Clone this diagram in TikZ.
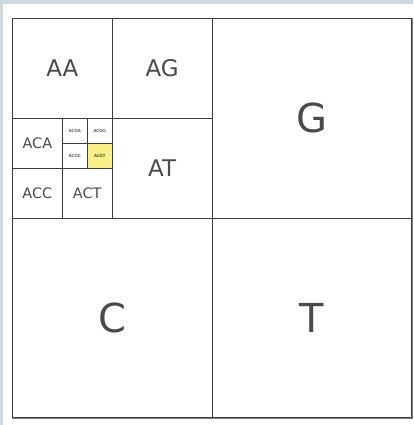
\documentclass[tikz,border=0pt]{standalone}
\usepackage{fontspec}
\setmainfont{DejaVu Sans}
\usepackage{xcolor}
\definecolor{gridink}{HTML}{3C3C3C}
\definecolor{labelink}{HTML}{4A4A4A}
\definecolor{pagebg}{HTML}{CED8DF}
\definecolor{hilite}{HTML}{FAF08A}

\begin{document}
\begin{tikzpicture}[x=1pt,y=1pt,
  cell/.style={draw=gridink, line width=0.8pt, rectangle, inner sep=0pt, text=labelink},
  lvlone/.style={cell, minimum size=200pt, font=\fontsize{40}{48}\selectfont},
  lvltwo/.style={cell, minimum size=100pt, font=\fontsize{23}{28}\selectfont},
  lvlthree/.style={cell, minimum size=50pt, font=\fontsize{14.5}{17}\selectfont},
  lvlfour/.style={cell, minimum size=25pt, text=black, font=\fontsize{4.2}{5}\selectfont},
  every path/.style={draw=gridink, line width=0.8pt}]
\useasboundingbox (0,0) rectangle (413,425);
\fill[pagebg, draw=none] (0,0) rectangle (413,425);
\fill[white, draw=none] (3,0) rectangle (413,421);
% big board
\node[cell, minimum size=400pt, fill=white] (board) at (212,207) {};
\draw[line width=1.2pt, draw=gray] ([xshift=0.8pt]board.north east) -- ([xshift=0.8pt,yshift=-0.8pt]board.south east) -- ([yshift=-0.8pt]board.south west);
% first level
\node[lvlone] (G) at (312,307) {G};
\node[lvlone] (C) at (112,107) {C};
\node[lvlone] (T) at (312,107) {T};
% second level
\node[lvltwo] (AA) at (62,357) {AA};
\node[lvltwo] (AG) at (162,357) {AG};
\node[lvltwo] (AT) at (162,257) {AT};
% third level
\node[lvlthree] (ACA) at (37,282) {ACA};
\node[lvlthree] (ACC) at (37,232) {ACC};
\node[lvlthree] (ACT) at (87,232) {ACT};
% fourth level
\node[lvlfour] (ACGA) at (74.5,294.5) {ACGA};
\node[lvlfour] (ACGG) at (99.5,294.5) {ACGG};
\node[lvlfour] (ACGC) at (74.5,269.5) {ACGC};
\node[lvlfour, fill=hilite] (ACGT) at (99.5,269.5) {ACGT};
\end{tikzpicture}
\end{document}
